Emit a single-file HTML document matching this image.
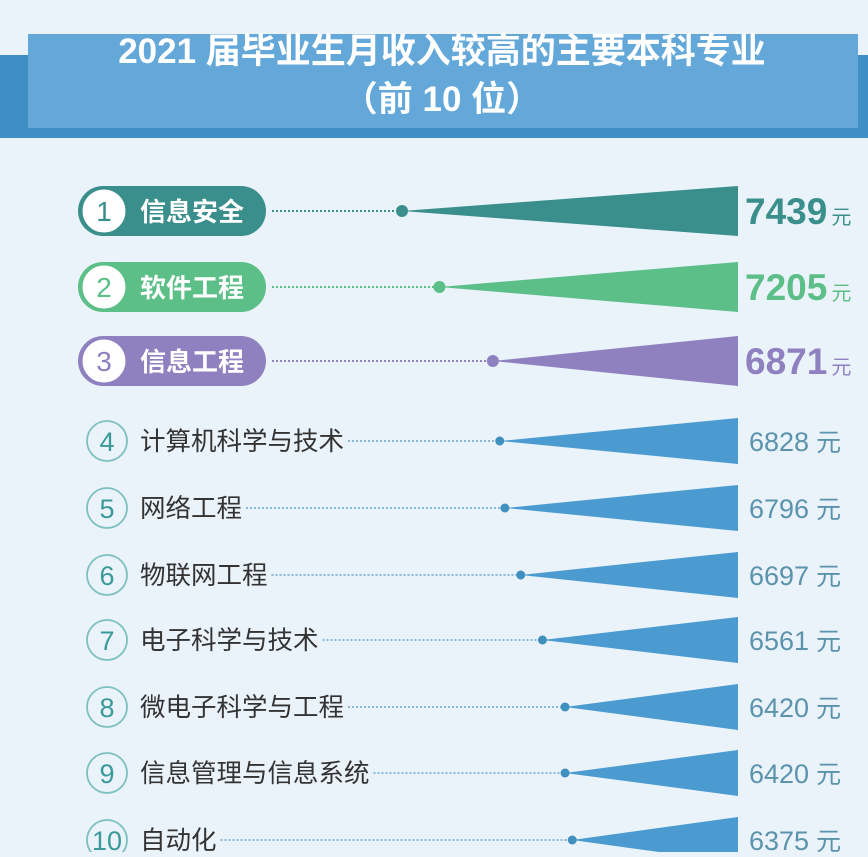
<!DOCTYPE html>
<html><head><meta charset="utf-8"><style>
html,body{margin:0;padding:0;}
body{width:868px;height:852px;overflow:hidden;background:#eaf2fa;font-family:"Liberation Sans","Noto Sans CJK SC",sans-serif;}
svg text{font-family:"Liberation Sans","Noto Sans CJK SC",sans-serif;}
</style></head><body>
<svg id="chart" width="868" height="852" viewBox="0 0 868 852" xmlns="http://www.w3.org/2000/svg">
<rect x="0" y="55" width="868" height="83" fill="#3f8fc4"/>
<rect x="28" y="34" width="830" height="94" fill="#63a8d8"/>
<text x="442" y="63" text-anchor="middle" fill="#fff" font-size="35" font-weight="bold">2021 届毕业生月收入较高的主要本科专业</text>
<text x="442" y="111" text-anchor="middle" fill="#fff" font-size="35" font-weight="bold">（前 10 位）</text>
<g id="rows"></g>
</svg>
<script>
const categories=["信息安全","软件工程","信息工程","计算机科学与技术","网络工程","物联网工程","电子科学与技术","微电子科学与工程","信息管理与信息系统","自动化"];
const values=[7439,7205,6871,6828,6796,6697,6561,6420,6420,6375];
const ranks=["1","2","3","4","5","6","7","8","9","10"];
const rowY=[211,287,361,441,508,575,640,707,773,840];
const topColors=["#3a8f8c","#5cbf87","#8f80c0"];
const NS="http://www.w3.org/2000/svg";
const g=document.getElementById('rows');
function xScale(v){return 738-(v-5339)*0.16;}
function mk(tag,attrs,parent){const e=document.createElementNS(NS,tag);for(const k in attrs)e.setAttribute(k,attrs[k]);(parent||g).appendChild(e);return e;}
values.forEach((v,i)=>{
  const y=rowY[i];const top=i<3;
  const col=top?topColors[i]:"#4b9bd0";
  const h=top?50:46;
  const dx=xScale(v);
  let textEnd;
  if(top){
    const pill=mk('rect',{x:78,y:y-25,width:188,height:50,rx:25,fill:col});
    
    
    const c=mk('circle',{cx:104,cy:y,r:23,fill:"#fff",stroke:col,"stroke-width":3});
    
    
    const n=mk('text',{x:104,y:y+10,"text-anchor":"middle","font-size":28,fill:col});n.textContent=ranks[i];
    
    
    const t=mk('text',{x:140,y:y+10,"font-size":26,fill:"#fff","font-weight":"bold"});t.textContent=categories[i];
    
    
    textEnd=272;
  } else {
    const c=mk('circle',{cx:107,cy:y,r:20,fill:"none",stroke:"#7cc0c0","stroke-width":1.8});
    
    
    const n=mk('text',{x:107,y:y+10,"text-anchor":"middle","font-size":27,fill:"#3a9a9a"});n.textContent=ranks[i];
    
    
    const t=mk('text',{x:140,y:y+9,"font-size":25.5,fill:"#333"});t.textContent=categories[i];
    
    
    textEnd=140+categories[i].length*25.5+4;
  }
  const ln=mk('line',{x1:textEnd,y1:y,x2:dx,y2:y,stroke:top?col:"#8ab8d8","stroke-width":2,"stroke-dasharray":"2 2"});
  
  
  const tri=mk('polygon',{points:`${dx},${y} 738,${y-h/2} 738,${y+h/2}`,fill:col});
  
  
  const d=mk('circle',{cx:dx,cy:y,r:top?6:4.5,fill:top?col:"#3f8fbf"});
  
  
  const vt=mk('text',{x:top?745:749,y:y+(top?13:10),"font-size":top?37:27,"font-weight":top?"bold":"normal",fill:top?col:"#5b93ad"});
  
  
  const ts=document.createElementNS(NS,'tspan');ts.textContent=String(v);vt.appendChild(ts);
  const u=document.createElementNS(NS,'tspan');u.setAttribute('font-size',top?"20":"25");u.setAttribute('font-weight','normal');u.setAttribute('dx',top?"4":"7");u.textContent="元";vt.appendChild(u);
});
</script>
</body></html>
